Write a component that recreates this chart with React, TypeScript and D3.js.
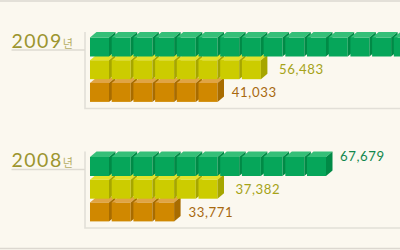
import React from "react";
import * as d3 from "d3";

// ---- data ----
const years = ["2009", "2008"];
const seriesNames = ["A", "B", "C"];
// values per year (null = label not visible in picture)
const values2009: (number | null)[] = [null, 56483, 41033];
const values2008: (number | null)[] = [67679, 37382, 33771];
// number of cubes drawn per bar
const cubes2009 = [16, 8, 6];
const cubes2008 = [11, 6, 4];

const yearValues = [values2009, values2008];
const yearCubes = [cubes2009, cubes2008];

// ---- styles ----
const W = 400;
const H = 250;
const faceColors = [
  { front: "#06a65a", top: "#35bf78", side: "#018a46", label: "#12874d" },
  { front: "#cccc00", top: "#e2e22a", side: "#a6a600", label: "#a6a318" },
  { front: "#d08800", top: "#e0a445", side: "#a86c00", label: "#a8690f" },
];
const labelGap = [7.5, 11.5, 7.8];
const labelDy = [4, 14.2, 14.4];

const CUBE = 19;
const DX = 6.5;
const DY = 5.5;

export default function App() {
  const xCube = d3.scaleLinear().domain([0, 1]).range([90, 111.7]);
  const yRow = d3.scaleLinear().domain([0, 1]).range([37.5, 60.2]);
  const yBlock = d3.scaleLinear().domain([0, 1]).range([0, 119.5]);

  const fmt = d3.format(",");

  const cubePath = (x: number, y: number) => ({
    front: `M${x},${y}h${CUBE}v${CUBE}h${-CUBE}Z`,
    top: `M${x},${y}L${x + DX},${y - DY}L${x + CUBE + DX},${y - DY}L${x + CUBE},${y}Z`,
    side: `M${x + CUBE},${y}L${x + CUBE + DX},${y - DY}L${x + CUBE + DX},${y + CUBE - DY}L${x + CUBE},${y + CUBE}Z`,
  });

  return (
    <svg
      width={W}
      height={H}
      style={{ position: "absolute", left: 0, top: 0, display: "block" }}
      fontFamily="Lato, 'Noto Sans', sans-serif"
    >
      <rect x={0} y={0} width={W} height={H} fill="#fbf8ef" />
      <line x1={0} x2={W} y1={1} y2={1} stroke="#e3e0d8" strokeWidth={2} />
      <line x1={0} x2={W} y1={248.5} y2={248.5} stroke="#dcd8d0" strokeWidth={1.5} />
      {years.map((yr, bi) => {
        const off = yBlock(bi);
        const counts = yearCubes[bi];
        const vals = yearValues[bi];
        return (
          <g key={yr}>
            {/* bracket */}
            <path
              d={`M85,${32 + off}V${108.5 + off}H${W}`}
              fill="none"
              stroke="#e2dfd7"
              strokeWidth={1.6}
            />
            <line x1={11.5} x2={85} y1={50 + off} y2={50 + off} stroke="#dedbd2" strokeWidth={1.4} />
            <text x={11.5} y={47.7 + off} fontSize={19.5} fill="#9c9530" letterSpacing={1.5}>
              {yr}
              <tspan fontSize={11} fill="#b5ad62" dx={0} letterSpacing={0} fontFamily="'Noto Sans CJK KR', sans-serif">
                년
              </tspan>
            </text>
            {/* rows drawn bottom-up */}
            {[2, 1, 0].map((si) => {
              const y = yRow(si) + off;
              const c = faceColors[si];
              return (
                <g key={seriesNames[si]}>
                  {d3.range(counts[si]).map((k) => {
                    const p = cubePath(xCube(k), y);
                    return (
                      <g key={k}>
                        <path d={p.front} fill={c.front} />
                        <path d={p.top} fill={c.top} />
                        <path d={p.side} fill={c.side} />
                      </g>
                    );
                  })}
                </g>
              );
            })}
            {[0, 1, 2].map((si) => {
              const v = vals[si];
              if (v == null) return null;
              const endX = xCube(counts[si] - 1) + CUBE + DX;
              return (
                <text
                  key={"l" + si}
                  x={endX + labelGap[si]}
                  y={yRow(si) + off + labelDy[si]}
                  fontSize={13.2}
                  letterSpacing={0.6}
                  fill={faceColors[si].label}
                >
                  {fmt(v)}
                </text>
              );
            })}
          </g>
        );
      })}
    </svg>
  );
}
